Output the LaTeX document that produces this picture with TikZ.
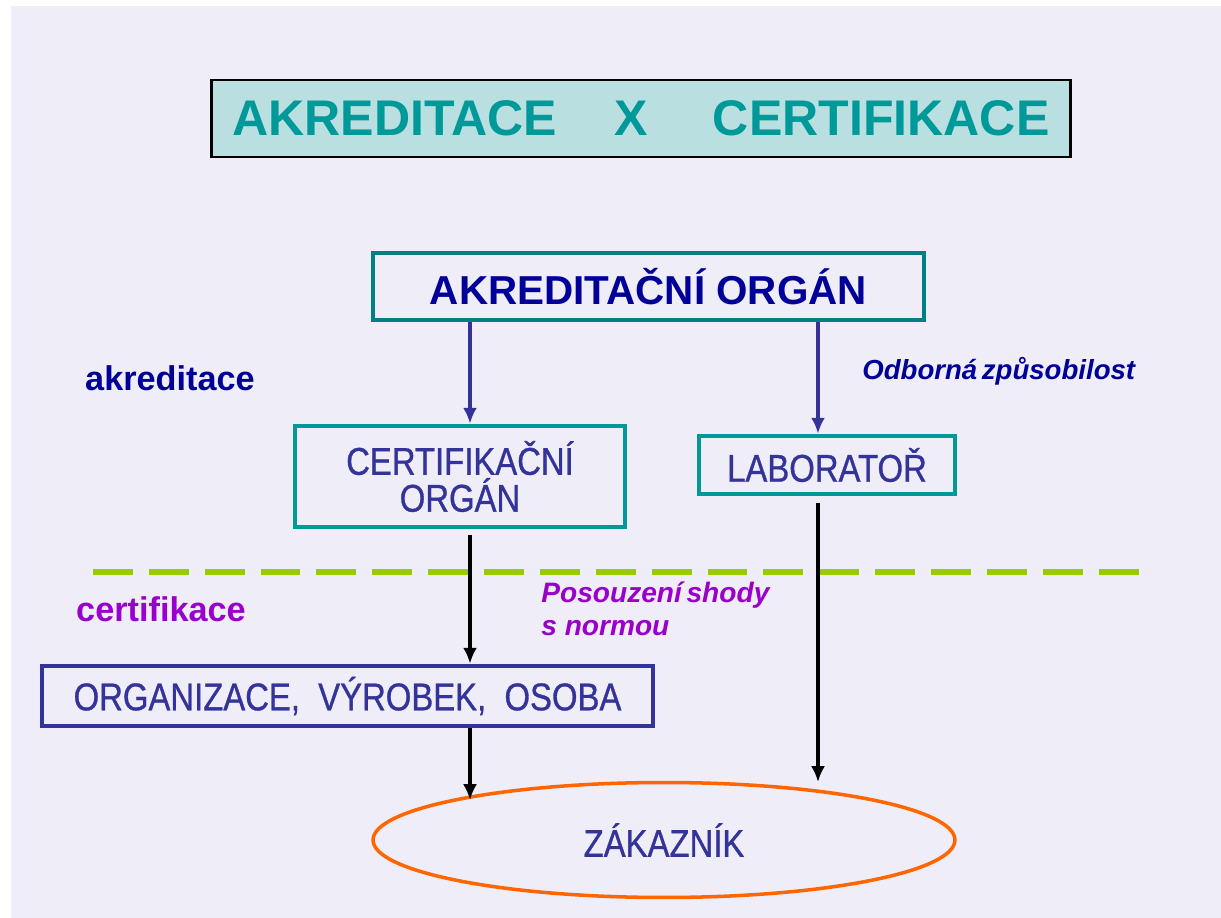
\documentclass[tikz,border=0pt]{standalone}
\usepackage{fontspec}
\setmainfont{Liberation Sans}
\newfontfamily\narrowfont[FakeStretch=0.85,FakeBold=0.8]{Liberation Sans}
\usetikzlibrary{shapes.geometric,arrows.meta}
\definecolor{bglav}{RGB}{239,237,247}
\definecolor{titlefill}{RGB}{185,223,225}
\definecolor{tealtext}{RGB}{0,153,153}
\definecolor{tealdark}{RGB}{0,128,128}
\definecolor{navy}{RGB}{0,0,153}
\definecolor{slateblue}{RGB}{51,51,153}
\definecolor{purp}{RGB}{153,0,204}
\definecolor{limegreen}{RGB}{153,204,0}
\definecolor{orangeline}{RGB}{255,102,0}
\tikzset{blue arrow/.style={
  slateblue, line width=2.2pt,
  -{Latex[length=9pt,width=8pt]}
  },
  black arrow/.style={
  black, line width=2.2pt,
  -{Latex[length=9pt,width=8pt]}
  },
  box/.style={draw, line width=2.7pt, inner sep=0pt, align=center},
  boxtext/.style={text=slateblue, font=\narrowfont\fontsize{22}{21}\selectfont}
}

\begin{document}
\begin{tikzpicture}[x=0.02cm,y=-0.02cm]
    \useasboundingbox (0,0) rectangle (1221,918);
    \fill[white] (0,0) rectangle (1221,918);
    \fill[bglav] (11,6) rectangle (1221,918);

    \node[draw=black,line width=1.3pt,fill=titlefill,minimum width=17.18cm,minimum height=1.54cm,
        text=tealtext,font=\bfseries\fontsize{28.5}{32}\selectfont] (title) at (641,118.5)
        {AKREDITACE\hspace{1.15em}X\hspace{1.3em}CERTIFIKACE};

    \node[box,draw=tealdark,minimum width=11.02cm,minimum height=1.34cm,text=navy,
        font=\bfseries\fontsize{23}{27}\selectfont] (akred) at (648.5,286.5) {AKREDITAČNÍ ORGÁN};
    \node[box,boxtext,draw=tealtext,minimum width=6.6cm,minimum height=2.02cm] (cert) at (460,476.5) {CERTIFIKAČNÍ\\ORGÁN};
    \node[box,boxtext,draw=tealtext,minimum width=5.12cm,minimum height=1.16cm] (lab) at (827,465) {LABORATOŘ};
    \node[box,boxtext,draw=slateblue,minimum width=12.22cm,minimum height=1.2cm] (org) at (347.5,696) {ORGANIZACE,~ VÝROBEK,~ OSOBA};
    \node[ellipse,draw=orangeline,line width=2pt,minimum width=11.64cm,minimum height=2.3cm,boxtext] (zak) at (664,840) {ZÁKAZNÍK};

    \node[text=navy,font=\bfseries\fontsize{19.5}{23}\selectfont] (akredlbl) at (170,378) {akreditace};
    \node[text=purp,font=\bfseries\fontsize{19.5}{23}\selectfont] (certlbl) at (161,609) {certifikace};
    \node[anchor=west,inner sep=0pt,text=navy,font=\bfseries\itshape\fontsize{15.7}{19}\selectfont] (odb) at (862,371) {Odborná\,způsobilost};
    \node[anchor=north west,inner sep=0pt,align=left,text=purp,font=\bfseries\itshape\fontsize{16}{18.7}\selectfont] (posouz) at (541,582) {Posouzení\,shody\\s normou};

    \draw[limegreen,line width=3pt,dash pattern=on 22.7pt off 9.1pt] (93,572) -- (1150,572);

    \draw[blue arrow] (470,0 |- akred.south) -- (470,0 |- cert.north);
    \draw[blue arrow] (818,0 |- akred.south) -- (818,0 |- lab.north);
    \draw[black arrow] (470,535) -- (470,0 |- org.north);
    \draw[black arrow] (818,503) -- (818,782);
    \draw[black arrow] (470,0 |- org.south) -- (470,800);
\end{tikzpicture}
\end{document}
